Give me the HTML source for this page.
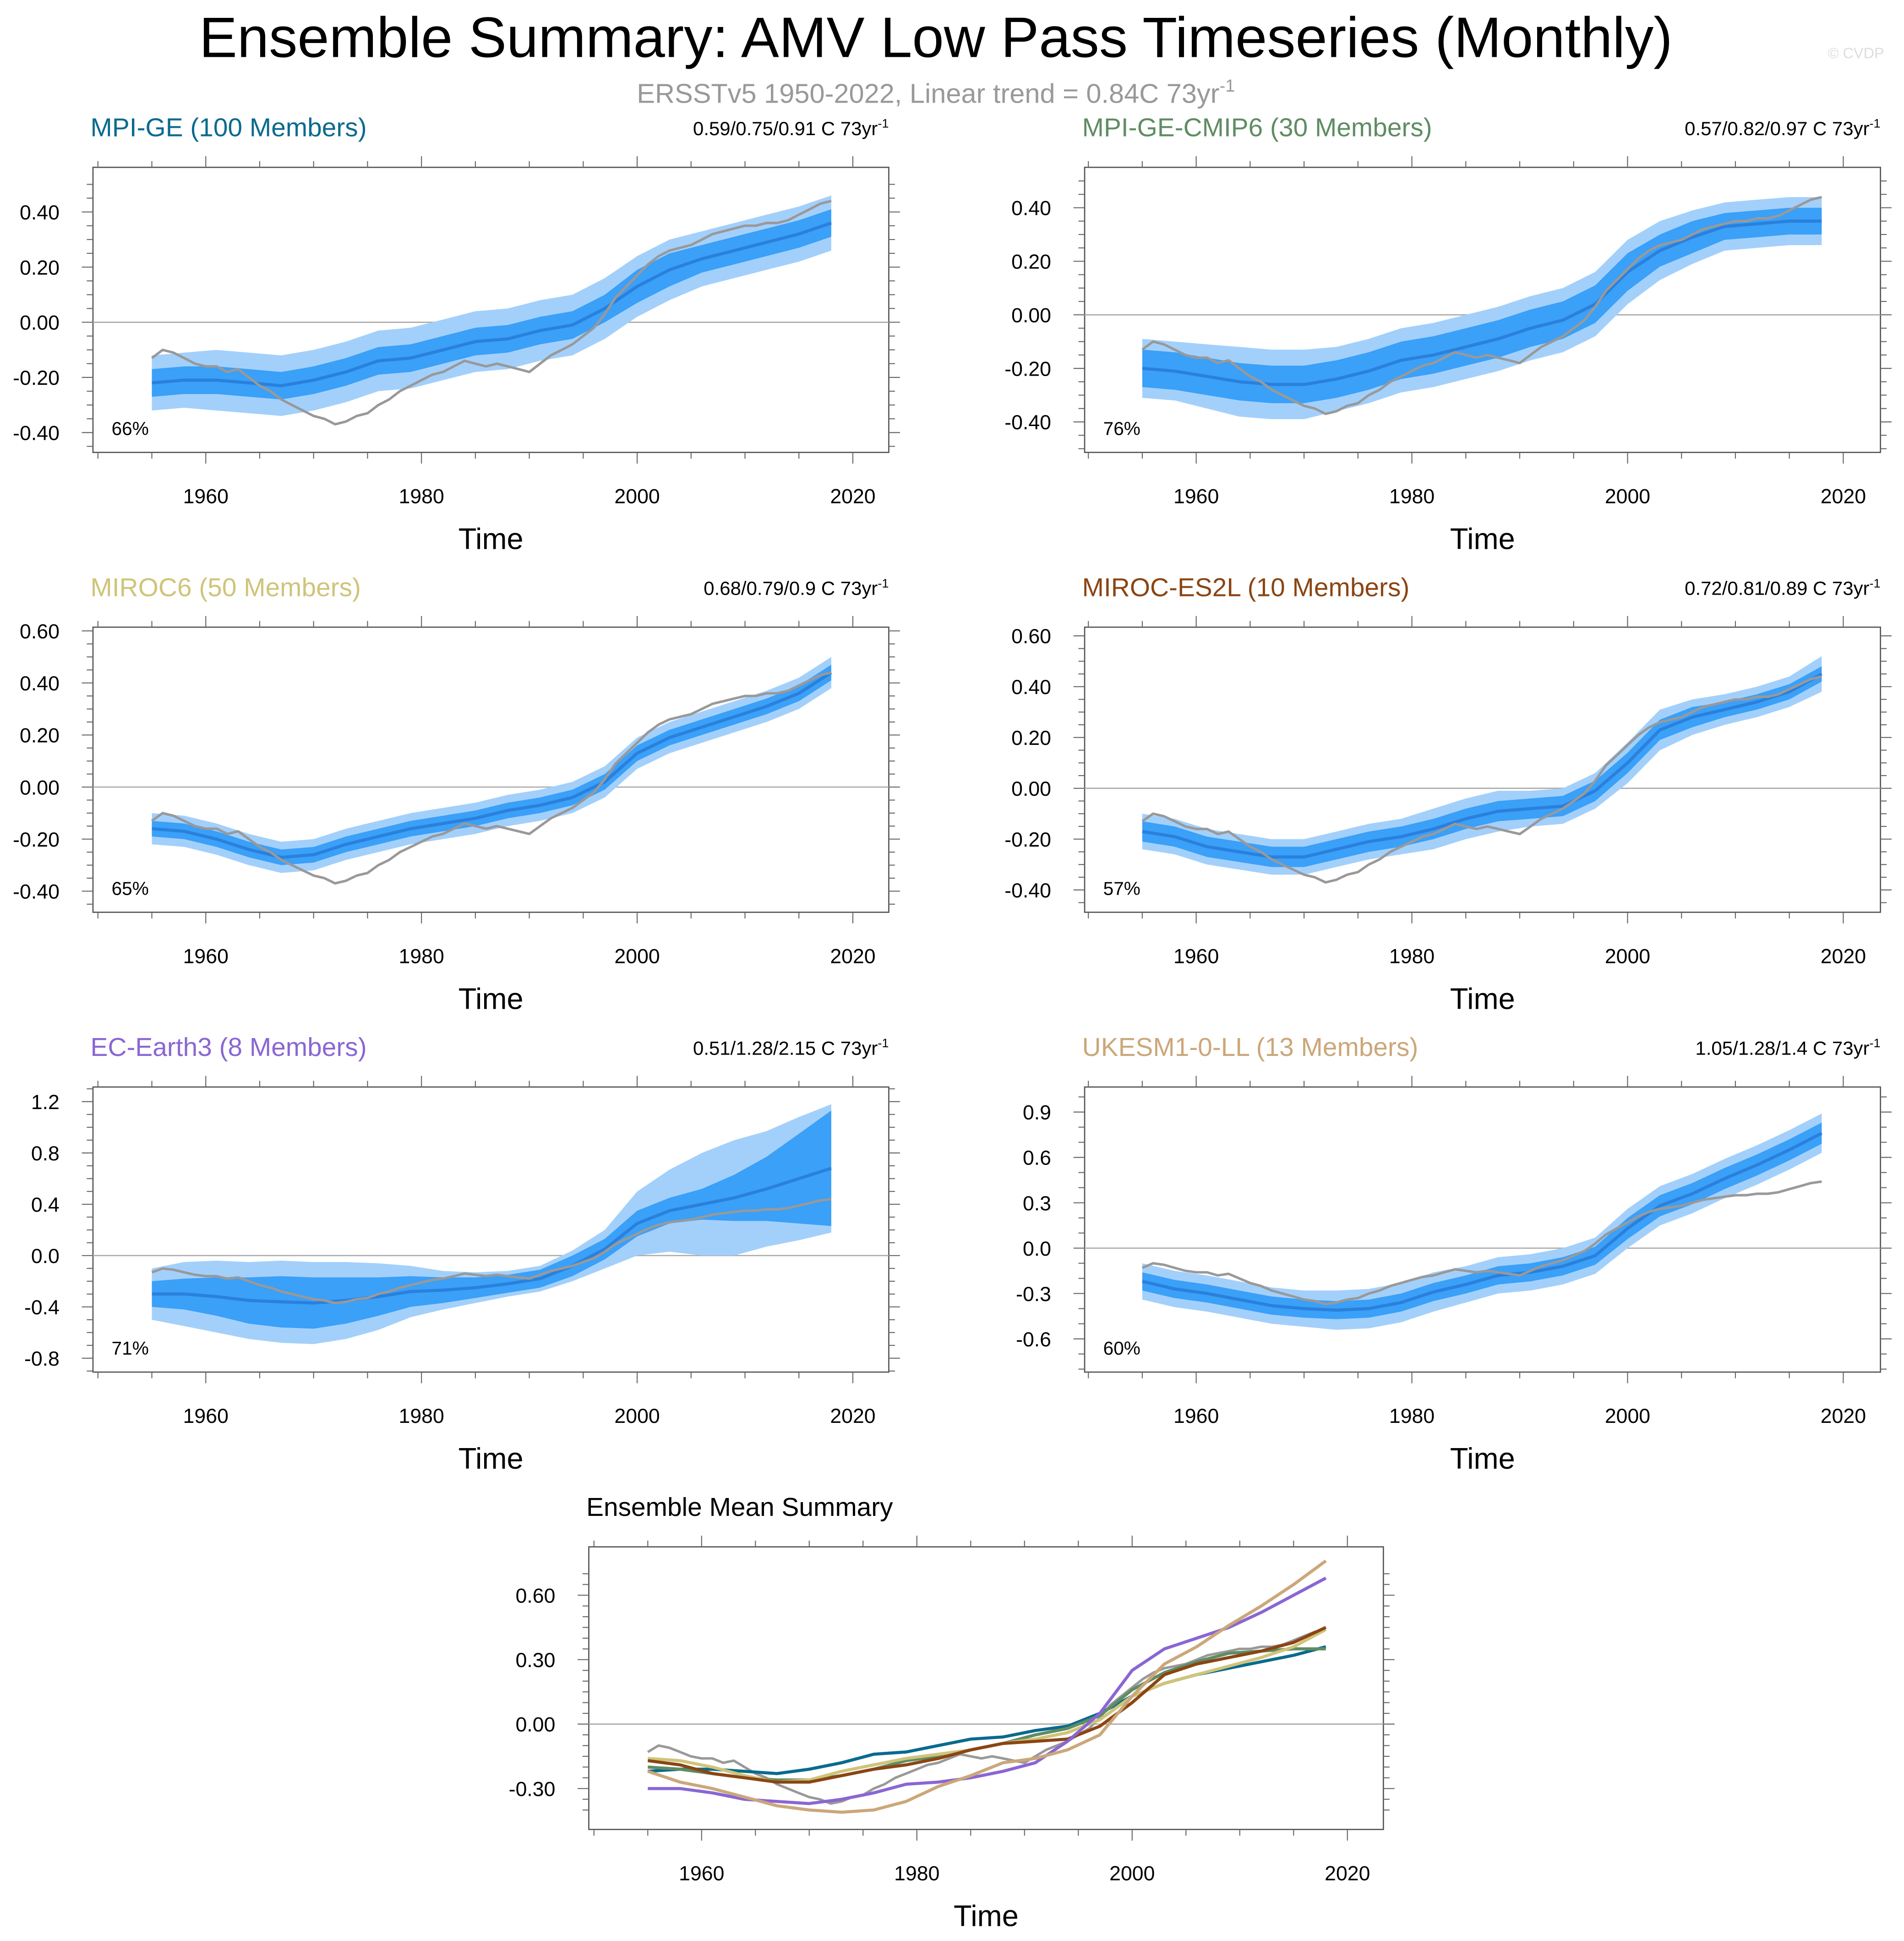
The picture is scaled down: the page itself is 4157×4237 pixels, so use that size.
<!DOCTYPE html>
<html><head><meta charset="utf-8"><style>
html,body{margin:0;padding:0;background:#fff}
svg{display:block}
text{font-family:"Liberation Sans",Arial,sans-serif}
</style></head><body>
<svg id="root" width="4157" height="4237" viewBox="0 0 1536 1566" preserveAspectRatio="none" xmlns="http://www.w3.org/2000/svg">
<text x="755" y="46" font-size="46" text-anchor="middle" fill="#000">Ensemble Summary: AMV Low Pass Timeseries (Monthly)</text>
<text x="1520" y="47" font-size="12" text-anchor="end" fill="#ddd">© CVDP</text>
<text x="755" y="83" font-size="22" text-anchor="middle" fill="#999">ERSSTv5 1950-2022, Linear trend = 0.84C 73yr<tspan dy="-9" font-size="14">-1</tspan></text>
</svg>
<script>
// ---- data ----
const obsYears = [];
for (let y = 1955; y <= 2018; y++) obsYears.push(y);
const obsValues = [-0.13,-0.10,-0.11,-0.13,-0.15,-0.16,-0.16,-0.18,-0.17,-0.20,-0.23,-0.25,-0.28,-0.30,-0.32,-0.34,-0.35,-0.37,-0.36,-0.34,-0.33,-0.30,-0.28,-0.25,-0.23,-0.21,-0.19,-0.18,-0.16,-0.14,-0.15,-0.16,-0.15,-0.16,-0.17,-0.18,-0.15,-0.12,-0.10,-0.08,-0.05,-0.02,0.03,0.09,0.13,0.17,0.21,0.24,0.26,0.27,0.28,0.30,0.32,0.33,0.34,0.35,0.35,0.36,0.36,0.37,0.39,0.41,0.43,0.44];
const modelYears = [1955,1958,1961,1964,1967,1970,1973,1976,1979,1982,1985,1988,1991,1994,1997,2000,2003,2006,2009,2012,2015,2018];
const meanMPIGE   = [-0.22,-0.21,-0.21,-0.22,-0.23,-0.21,-0.18,-0.14,-0.13,-0.10,-0.07,-0.06,-0.03,-0.01,0.05,0.13,0.19,0.23,0.26,0.29,0.32,0.36];
const innerMPIGE  = [0.05,0.05,0.05,0.05,0.05,0.05,0.05,0.05,0.05,0.05,0.05,0.05,0.05,0.05,0.05,0.06,0.06,0.05,0.05,0.05,0.05,0.05];
const outerMPIGE  = [0.10,0.10,0.11,0.11,0.11,0.11,0.11,0.11,0.11,0.11,0.11,0.11,0.11,0.11,0.11,0.11,0.11,0.10,0.10,0.10,0.10,0.10];
const meanCMIP6   = [-0.20,-0.21,-0.23,-0.25,-0.26,-0.26,-0.24,-0.21,-0.17,-0.15,-0.12,-0.09,-0.05,-0.02,0.04,0.16,0.24,0.29,0.33,0.34,0.35,0.35];
const innerCMIP6  = [0.07,0.07,0.07,0.07,0.07,0.07,0.07,0.07,0.07,0.07,0.07,0.07,0.07,0.07,0.07,0.07,0.06,0.06,0.05,0.05,0.05,0.05];
const outerCMIP6  = [0.11,0.11,0.12,0.13,0.13,0.13,0.12,0.12,0.12,0.12,0.12,0.12,0.12,0.12,0.12,0.12,0.11,0.10,0.09,0.09,0.09,0.09];
const meanMIROC6  = [-0.16,-0.17,-0.20,-0.24,-0.27,-0.26,-0.22,-0.19,-0.16,-0.14,-0.12,-0.09,-0.07,-0.04,0.02,0.13,0.19,0.23,0.27,0.31,0.36,0.44];
const innerMIROC6 = [0.03,0.03,0.03,0.03,0.03,0.03,0.03,0.03,0.03,0.03,0.03,0.03,0.03,0.03,0.03,0.03,0.03,0.03,0.03,0.03,0.03,0.03];
const outerMIROC6 = [0.06,0.06,0.06,0.06,0.06,0.06,0.06,0.06,0.06,0.06,0.06,0.06,0.06,0.06,0.06,0.06,0.06,0.06,0.06,0.06,0.06,0.06];
const meanES2L    = [-0.17,-0.19,-0.23,-0.25,-0.27,-0.27,-0.24,-0.21,-0.19,-0.16,-0.12,-0.09,-0.08,-0.07,-0.01,0.10,0.23,0.28,0.31,0.34,0.38,0.45];
const innerES2L   = [0.04,0.04,0.04,0.04,0.04,0.04,0.04,0.04,0.04,0.04,0.04,0.04,0.04,0.04,0.04,0.04,0.04,0.04,0.03,0.03,0.03,0.03];
const outerES2L   = [0.07,0.07,0.07,0.07,0.07,0.07,0.07,0.07,0.07,0.08,0.08,0.08,0.07,0.07,0.07,0.08,0.08,0.07,0.06,0.06,0.06,0.07];
const meanEC      = [-0.30,-0.30,-0.32,-0.35,-0.36,-0.37,-0.35,-0.32,-0.28,-0.27,-0.25,-0.22,-0.18,-0.08,0.05,0.25,0.35,0.40,0.45,0.52,0.60,0.68];
const innerEC     = [0.10,0.12,0.15,0.18,0.20,0.20,0.18,0.15,0.12,0.10,0.08,0.07,0.07,0.08,0.08,0.10,0.10,0.12,0.18,0.25,0.35,0.45];
const outerEC     = [0.20,0.25,0.28,0.30,0.32,0.32,0.30,0.26,0.20,0.15,0.12,0.10,0.10,0.12,0.15,0.25,0.32,0.40,0.45,0.45,0.48,0.50];
const meanUKESM   = [-0.22,-0.27,-0.30,-0.34,-0.38,-0.40,-0.41,-0.40,-0.36,-0.29,-0.24,-0.18,-0.16,-0.12,-0.05,0.13,0.28,0.36,0.46,0.55,0.65,0.76];
const innerUKESM  = [0.06,0.06,0.06,0.06,0.06,0.06,0.06,0.06,0.06,0.06,0.06,0.06,0.06,0.06,0.06,0.07,0.07,0.07,0.07,0.07,0.07,0.07];
const outerUKESM  = [0.12,0.12,0.12,0.12,0.12,0.12,0.13,0.13,0.13,0.13,0.12,0.12,0.12,0.12,0.12,0.13,0.13,0.13,0.13,0.13,0.13,0.13];
const xTickLabels = [1960,1980,2000,2020];
const ticks2 = [-0.4,-0.2,0,0.2,0.4];
const ticks3 = [-0.4,-0.2,0,0.2,0.4,0.6];
const ticksEC = [-0.8,-0.4,0,0.4,0.8,1.2];
const ticksUK = [-0.6,-0.3,0,0.3,0.6,0.9];
const ticksSum = [-0.3,0,0.3,0.6];

const NS = "http://www.w3.org/2000/svg";
const root = document.getElementById('root');
function mk(tag, attrs, parent){
  const e = document.createElementNS(NS, tag);
  for (const k in attrs) e.setAttribute(k, attrs[k]);
  (parent||root).appendChild(e);
  return e;
}
function panel(o){
  const g = mk('g', {});
  
  
  const xs = y => o.x1960 + (y-1960)*o.pxYr;
  const ys = v => o.zero - v*o.scale;
  const box = mk('rect', {x:o.bx0, y:o.by0, width:o.bx1-o.bx0, height:o.by1-o.by0, fill:'none', stroke:'#555', 'stroke-width':1}, g);
  
  
  const zl = mk('line', {x1:o.bx0, x2:o.bx1, y1:ys(0), y2:ys(0), stroke:'#aaa', 'stroke-width':1}, g);
  
  
  const lo = o.ticks[0]-o.minor*2, hi = o.ticks[o.ticks.length-1]+o.minor*2;
  for (let v = lo; v <= hi+1e-9; v += o.minor){
    const y = ys(v);
    if (y < o.by0 || y > o.by1) continue;
    const major = o.ticks.some(t => Math.abs(t-v) < 1e-6);
    const L = major ? 9 : 5;
    mk('line', {x1:o.bx0-L, x2:o.bx0, y1:y, y2:y, stroke:'#666', 'stroke-width':0.8}, g);
    mk('line', {x1:o.bx1, x2:o.bx1+L, y1:y, y2:y, stroke:'#666', 'stroke-width':0.8}, g);
  }
  o.ticks.forEach(t => {
    const tl = mk('text', {x:o.bx0-27, y:ys(t)+6, 'font-size':16.5, 'text-anchor':'end', fill:'#000'}, g);
    
    
    tl.textContent = t.toFixed(o.dec);
  });
  for (let yr = 1950; yr <= 2020; yr += 5){
    const x = xs(yr);
    const major = yr % 20 === 0;
    const L = major ? 9 : 5;
    mk('line', {x1:x, x2:x, y1:o.by1, y2:o.by1+L, stroke:'#666', 'stroke-width':0.8}, g);
    mk('line', {x1:x, x2:x, y1:o.by0-L, y2:o.by0, stroke:'#666', 'stroke-width':0.8}, g);
  }
  xTickLabels.forEach(yr => {
    const tl = mk('text', {x:xs(yr), y:o.by1+41, 'font-size':16.5, 'text-anchor':'middle', fill:'#000'}, g);
    
    
    tl.textContent = yr;
  });
  const xt = mk('text', {x:(o.bx0+o.bx1)/2, y:o.by1+78, 'font-size':24, 'text-anchor':'middle', fill:'#000'}, g);
  
  
  xt.textContent = 'Time';
  const tt = mk('text', {x:o.bx0-2, y:o.by0-25, 'font-size':21, fill:o.color}, g);
  
  
  tt.textContent = o.title;
  if (o.trend){
    const tr = mk('text', {x:o.bx1, y:o.by0-26, 'font-size':15.5, 'text-anchor':'end', fill:'#000'}, g);
    
    
    tr.textContent = o.trend;
    const sp = mk('tspan', {dy:-6, 'font-size':10}, tr);
    sp.textContent = '-1';
  }
  if (o.pct){
    const pc = mk('text', {x:o.bx0+15, y:o.by1-14, 'font-size':15, fill:'#000'}, g);
    
    
    pc.textContent = o.pct;
  }
  return {g, xs, ys};
}
function band(p, mean, w, color, name){
  let d = '';
  modelYears.forEach((yr,i) => { d += (i?'L':'M') + p.xs(yr).toFixed(1) + ',' + p.ys(mean[i]+w[i]).toFixed(1); });
  for (let i = modelYears.length-1; i >= 0; i--) d += 'L' + p.xs(modelYears[i]).toFixed(1) + ',' + p.ys(mean[i]-w[i]).toFixed(1);
  const e = mk('path', {d:d+'Z', fill:color, stroke:'none'}, p.g);
  
  
}
function line(p, years, vals, color, w, name){
  const pts = years.map((yr,i) => p.xs(yr).toFixed(1)+','+p.ys(vals[i]).toFixed(1)).join(' ');
  const e = mk('polyline', {points:pts, fill:'none', stroke:color, 'stroke-width':w, 'stroke-linejoin':'round'}, p.g);
  
  
}
const panels = [
  {name:'panel-mpi-ge', title:'MPI-GE (100 Members)', color:'#0a6a8e', trend:'0.59/0.75/0.91 C 73yr', pct:'66%', bx0:75,bx1:717,by0:135,by1:365, x1960:166, pxYr:8.7, zero:260, scale:222.5, ticks:ticks2, minor:0.05, dec:2, mean:meanMPIGE, inner:innerMPIGE, outer:outerMPIGE},
  {name:'panel-mpi-ge-cmip6', title:'MPI-GE-CMIP6 (30 Members)', color:'#5f8c63', trend:'0.57/0.82/0.97 C 73yr', pct:'76%', bx0:875,bx1:1517,by0:135,by1:365, x1960:965, pxYr:8.7, zero:254, scale:216, ticks:ticks2, minor:0.05, dec:2, mean:meanCMIP6, inner:innerCMIP6, outer:outerCMIP6},
  {name:'panel-miroc6', title:'MIROC6 (50 Members)', color:'#cfc47a', trend:'0.68/0.79/0.9 C 73yr', pct:'65%', bx0:75,bx1:717,by0:506,by1:736, x1960:166, pxYr:8.7, zero:635, scale:210, ticks:ticks3, minor:0.05, dec:2, mean:meanMIROC6, inner:innerMIROC6, outer:outerMIROC6},
  {name:'panel-miroc-es2l', title:'MIROC-ES2L (10 Members)', color:'#8b4513', trend:'0.72/0.81/0.89 C 73yr', pct:'57%', bx0:875,bx1:1517,by0:506,by1:736, x1960:965, pxYr:8.7, zero:636, scale:205, ticks:ticks3, minor:0.05, dec:2, mean:meanES2L, inner:innerES2L, outer:outerES2L},
  {name:'panel-ec-earth3', title:'EC-Earth3 (8 Members)', color:'#8a66d4', trend:'0.51/1.28/2.15 C 73yr', pct:'71%', bx0:75,bx1:717,by0:877,by1:1107, x1960:166, pxYr:8.7, zero:1013, scale:103.5, ticks:ticksEC, minor:0.1, dec:1, mean:meanEC, inner:innerEC, outer:outerEC},
  {name:'panel-ukesm1-0-ll', title:'UKESM1-0-LL (13 Members)', color:'#cba77a', trend:'1.05/1.28/1.4 C 73yr', pct:'60%', bx0:875,bx1:1517,by0:877,by1:1107, x1960:965, pxYr:8.7, zero:1007, scale:122, ticks:ticksUK, minor:0.1, dec:1, mean:meanUKESM, inner:innerUKESM, outer:outerUKESM}
];
panels.forEach(o => {
  const p = panel(o);
  band(p, o.mean, o.outer, '#a3d0fb', 'outer-spread-band');
  band(p, o.mean, o.inner, '#3aa0f8', 'inner-spread-band');
  line(p, modelYears, o.mean, '#2a80dc', 2.5, 'ensemble-mean-line');
  line(p, obsYears, obsValues, '#999', 2, 'observed-line');
});
const s = panel({name:'panel-ensemble-mean-summary', title:'Ensemble Mean Summary', color:'#000', bx0:475,bx1:1116,by0:1248,by1:1476, x1960:566, pxYr:8.683, zero:1391, scale:173.3, ticks:ticksSum, minor:0.05, dec:2});
line(s, obsYears, obsValues, '#999', 2, 'summary-obs-line');
line(s, modelYears, meanMPIGE, '#0a6a8e', 2.5, 'summary-mpi-ge-line');
line(s, modelYears, meanCMIP6, '#5f8c63', 2.5, 'summary-cmip6-line');
line(s, modelYears, meanMIROC6, '#cfc47a', 2.5, 'summary-miroc6-line');
line(s, modelYears, meanES2L, '#8b4513', 2.5, 'summary-es2l-line');
line(s, modelYears, meanEC, '#8a66d4', 2.5, 'summary-ec-earth3-line');
line(s, modelYears, meanUKESM, '#cba77a', 2.5, 'summary-ukesm-line');
</script>
</body></html>
